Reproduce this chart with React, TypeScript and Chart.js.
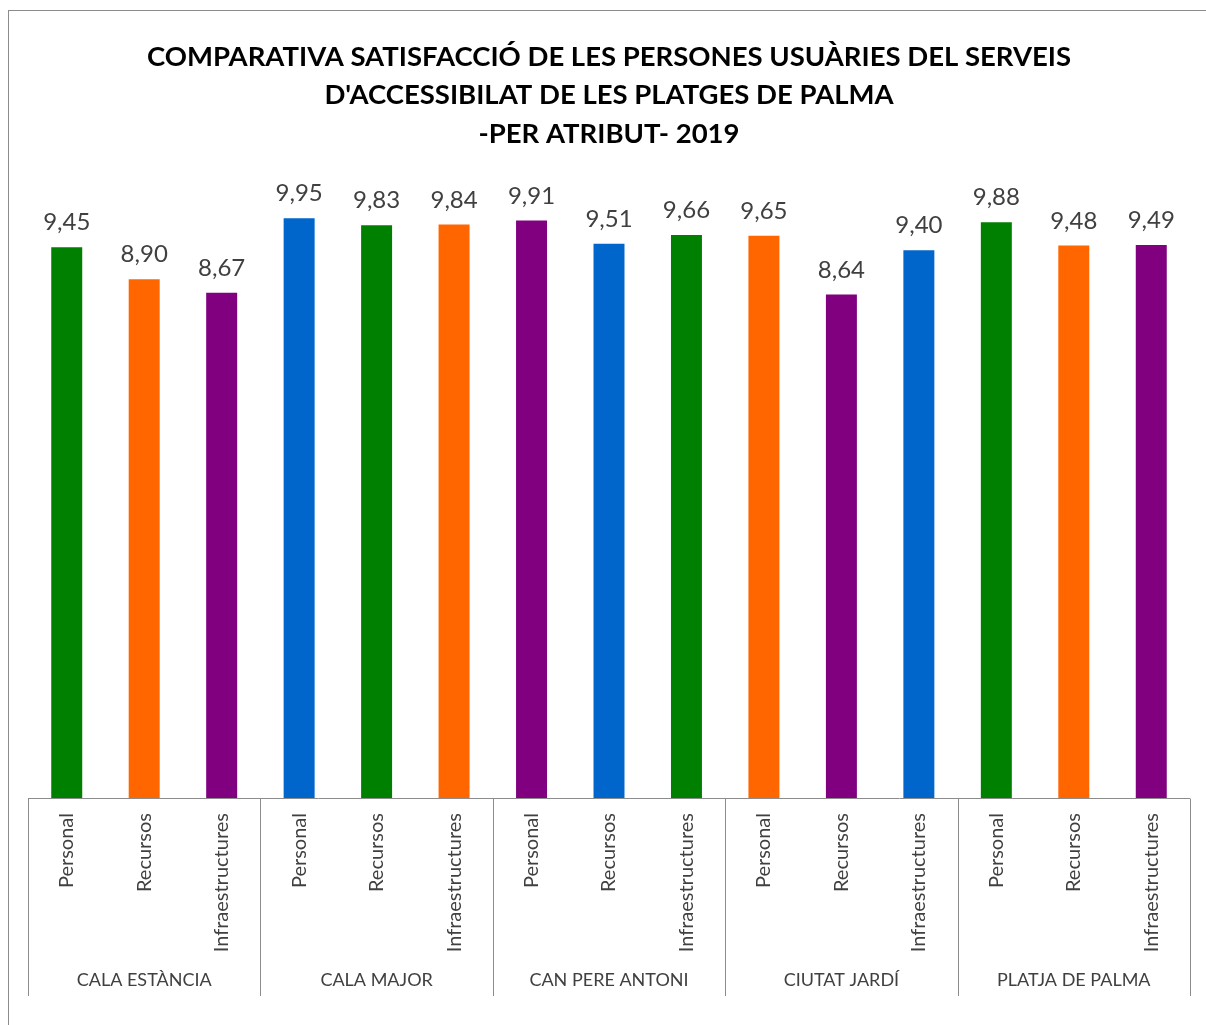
import React, { useEffect, useRef } from "react";
import { Chart, registerables } from "chart.js";

Chart.register(...registerables);

const titleLines = [
  "COMPARATIVA SATISFACCIÓ DE LES PERSONES USUÀRIES DEL SERVEIS",
  "D'ACCESSIBILAT DE LES PLATGES DE PALMA",
  "-PER ATRIBUT- 2019",
];
const groups = ["CALA ESTÀNCIA", "CALA MAJOR", "CAN PERE ANTONI", "CIUTAT JARDÍ", "PLATJA DE PALMA"];
const attributes = ["Personal", "Recursos", "Infraestructures"];
const values = [9.45, 8.9, 8.67, 9.95, 9.83, 9.84, 9.91, 9.51, 9.66, 9.65, 8.64, 9.4, 9.88, 9.48, 9.49];
const GREEN = "#008000";
const ORANGE = "#FF6600";
const PURPLE = "#800080";
const BLUE = "#0066CC";
const barColors = [
  GREEN, ORANGE, PURPLE,
  BLUE, GREEN, ORANGE,
  PURPLE, BLUE, GREEN,
  ORANGE, PURPLE, BLUE,
  GREEN, ORANGE, PURPLE,
];

const FONT = "Lato";
const LINE = "#8c8c8c";
const TEXT = "#404040";

const decorPlugin = {
  id: "decor",
  afterDraw(chart: any) {
    const ctx = chart.ctx;
    const xs = chart.scales.x;
    ctx.save();
    ctx.strokeStyle = LINE;
    ctx.lineWidth = 1;
    // outer chart border
    ctx.strokeRect(8.5, 10.5, 1400, 1400);
    // baseline
    const top = Math.round(xs.top) + 0.5;
    ctx.beginPath();
    ctx.moveTo(xs.left, top);
    ctx.lineTo(xs.right, top);
    ctx.stroke();
    // group separators
    const n = values.length;
    const per = attributes.length;
    const slot = xs.width / n;
    for (let g = 0; g <= groups.length; g++) {
      const px = Math.round(xs.left + g * per * slot) + 0.5;
      ctx.beginPath();
      ctx.moveTo(px, top);
      ctx.lineTo(px, xs.bottom);
      ctx.stroke();
    }
    // group labels
    ctx.fillStyle = TEXT;
    ctx.font = `18px ${FONT}`;
    ctx.textAlign = "center";
    ctx.textBaseline = "middle";
    groups.forEach((g, i) => {
      const c = (xs.getPixelForValue(i * per) + xs.getPixelForValue(i * per + per - 1)) / 2;
      ctx.fillText(g, c, xs.bottom - 16);
    });
    // value labels
    ctx.font = `24px ${FONT}`;
    ctx.textBaseline = "alphabetic";
    const meta = chart.getDatasetMeta(0);
    meta.data.forEach((bar: any, i: number) => {
      ctx.fillText(values[i].toFixed(2).replace(".", ","), bar.x, bar.y - 17);
    });
    ctx.restore();
  },
};

export default function App() {
  const ref = useRef<HTMLCanvasElement>(null);
  useEffect(() => {
    const labels = groups.flatMap(() => attributes);
    const chart = new Chart(ref.current as HTMLCanvasElement, {
      type: "bar",
      data: {
        labels,
        datasets: [
          {
            data: values,
            backgroundColor: barColors,
            borderWidth: 0,
            barPercentage: 0.4,
            categoryPercentage: 1,
          },
        ],
      },
      options: {
        responsive: false,
        animation: false,
        devicePixelRatio: 1,
        layout: { padding: { top: 37.5, left: 28, right: 16, bottom: 29 } },
        plugins: {
          legend: { display: false },
          tooltip: { enabled: false },
          title: {
            display: true,
            text: titleLines,
            color: "#000",
            font: { family: FONT, size: 27.5, weight: "bold", lineHeight: 38.5 / 27.5 },
            padding: { top: 0, bottom: 4 },
          },
        },
        scales: {
          x: {
            grid: { display: false, drawTicks: false },
            border: { display: false },
            ticks: {
              minRotation: 90,
              maxRotation: 90,
              autoSkip: false,
              padding: 15,
              color: TEXT,
              font: { family: FONT, size: 20 },
            },
            afterFit: (axis: any) => {
              axis.height = 198;
            },
          },
          y: { display: false, min: 0, max: 11 },
        },
      },
      plugins: [decorPlugin],
    });
    return () => chart.destroy();
  }, []);
  return (
    <div style={{ position: "fixed", left: 0, top: 0, width: 1206, height: 1025, background: "#fff" }}>
      <canvas ref={ref} width={1206} height={1025} />
    </div>
  );
}
